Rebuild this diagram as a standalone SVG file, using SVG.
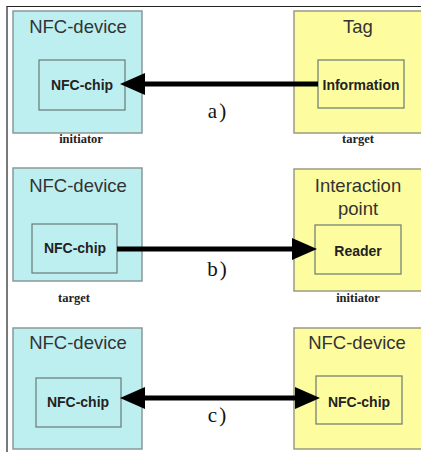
<svg xmlns="http://www.w3.org/2000/svg" width="421" height="452" viewBox="0 0 421 452">
<defs>
<style>
.cyan{fill:#bdeff0;stroke:#8a9898;stroke-width:1.5}
.yellow{fill:#fdfd9f;stroke:#9a9a80;stroke-width:1.5}
.inner{fill:none;stroke:#6a7878;stroke-width:1.2}
.title{font-family:"Liberation Sans",Arial,sans-serif;font-size:18.5px;fill:#333;text-anchor:middle}
.chip{font-family:"Liberation Sans",Arial,sans-serif;font-size:14px;font-weight:bold;fill:#222;text-anchor:middle}
.role{font-family:"Liberation Serif","Times New Roman",serif;font-size:12.5px;font-weight:bold;fill:#222;text-anchor:middle}
.lbl{font-family:"Liberation Serif","Times New Roman",serif;font-size:21px;fill:#111;text-anchor:middle;letter-spacing:2px}
.wire{stroke:#000;stroke-width:5;fill:none}
</style>
<marker id="head" viewBox="0 0 25 22" refX="0" refY="11" markerWidth="25" markerHeight="22" markerUnits="userSpaceOnUse" orient="auto-start-reverse">
<path d="M0,0 L25,11 L0,22 Z" fill="#000"/>
</marker>
</defs>
<rect width="421" height="452" fill="#fff"/>
<path d="M7,452 V6.5 H421" fill="none" stroke="#222" stroke-width="1.2"/>

<g id="a-device">
<rect class="cyan" x="13" y="11" width="129" height="122"/>
<text class="title" x="78" y="33">NFC-device</text>
<rect class="inner" x="39" y="60" width="86" height="50"/>
<text class="chip" x="82" y="90">NFC-chip</text>
<text class="role" x="81" y="143">initiator</text>
</g>
<g id="a-tag">
<rect class="yellow" x="294" y="11" width="130" height="122"/>
<text class="title" x="358" y="33">Tag</text>
<rect class="inner" x="318" y="60" width="86" height="48"/>
<text class="chip" x="361" y="90">Information</text>
<text class="role" x="358" y="143">target</text>
</g>

<g id="b-device">
<rect class="cyan" x="13" y="168" width="129" height="113"/>
<text class="title" x="78" y="192">NFC-device</text>
<rect class="inner" x="32" y="224" width="85" height="49"/>
<text class="chip" x="75" y="253">NFC-chip</text>
<text class="role" x="74" y="302">target</text>
</g>
<g id="b-point">
<rect class="yellow" x="294" y="169" width="130" height="122"/>
<text class="title" x="358" y="192">Interaction</text>
<text class="title" x="358" y="215">point</text>
<rect class="inner" x="315" y="225" width="86" height="49"/>
<text class="chip" x="358" y="256">Reader</text>
<text class="role" x="358" y="302">initiator</text>
</g>

<g id="c-device-left">
<rect class="cyan" x="13" y="328" width="129" height="121"/>
<text class="title" x="78" y="349">NFC-device</text>
<rect class="inner" x="36" y="378" width="85" height="49"/>
<text class="chip" x="78" y="407">NFC-chip</text>
</g>
<g id="c-device-right">
<rect class="yellow" x="294" y="328" width="130" height="121"/>
<text class="title" x="357" y="349">NFC-device</text>
<rect class="inner" x="316" y="376" width="86" height="48"/>
<text class="chip" x="359" y="407">NFC-chip</text>
</g>

<g id="connectors">
<line class="wire" x1="318" y1="84" x2="145" y2="84" marker-end="url(#head)"/>
<line class="wire" x1="117" y1="249" x2="292" y2="249" marker-end="url(#head)"/>
<line class="wire" x1="145" y1="398" x2="295" y2="398" marker-start="url(#head)" marker-end="url(#head)"/>
<text class="lbl" x="218" y="118">a)</text>
<text class="lbl" x="218" y="276">b)</text>
<text class="lbl" x="218" y="422">c)</text>
</g>
</svg>
